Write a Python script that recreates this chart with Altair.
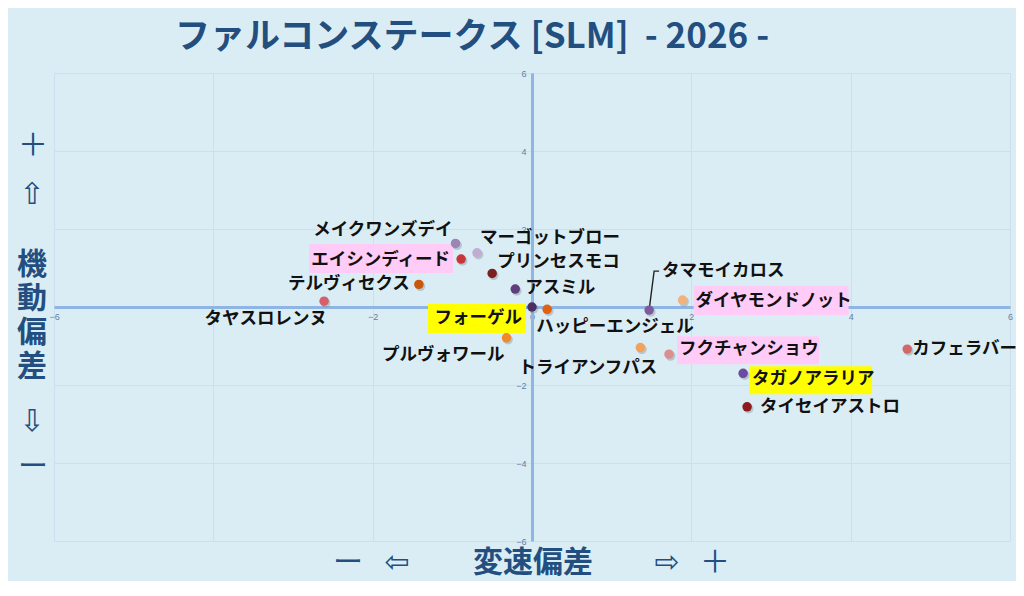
import altair as alt
import pandas as pd

# ---------------- data ----------------
names = ["メイクワンズデイ", "マーゴットブロー", "エイシンディード", "プリンセスモコ",
         "テルヴィセクス", "アスミル", "タヤスロレンヌ", "フォーゲル",
         "ハッピーエンジェル", "プルヴォワール", "トライアンフパス", "タマモイカロス",
         "ダイヤモンドノット", "フクチャンショウ", "カフェラバー", "タガノアラリア",
         "タイセイアストロ"]
speed_dev = [-0.96, -0.69, -0.89, -0.50, -1.42, -0.21, -2.61, 0.00,
             0.19, -0.32, 1.36, 1.47, 1.89, 1.72, 4.71, 2.65, 2.70]
mobility_dev = [1.63, 1.39, 1.23, 0.86, 0.58, 0.46, 0.15, 0.00,
                -0.06, -0.79, -1.04, -0.08, 0.18, -1.21, -1.08, -1.70, -2.56]
tick_values = [-6, -4, -2, 0, 2, 4, 6]

title_text = "ファルコンステークス [SLM]\u00a0\u00a0- 2026 -"
x_title = "変速偏差"
y_title = ["機", "動", "偏", "差"]

# ---------------- styles ----------------
FONT = "Noto Sans CJK JP"
NAVY = "#234f80"
BG = "#dbedf4"
PINK = "#ffccf7"
YELLOW = "#ffff00"

dot_colors = ["#9b85b4", "#c0aed0", "#c8363a", "#7a1f22", "#c8580a", "#5e3f7c",
              "#d4606a", "#4a3062", "#e0620e", "#f0882c", "#f3a25c", "#7e5a9e",
              "#f2b27c", "#d89090", "#d06868", "#6c4ca0", "#8c1c1c"]

# label placement (align, dx, dy) relative to each dot
label_style = {
    "メイクワンズデイ": ("right", -3, -13),
    "マーゴットブロー": ("left", 3, -15),
    "エイシンディード": ("right", -11, 1),
    "プリンセスモコ": ("left", 5, -11),
    "テルヴィセクス": ("right", -9, 0),
    "アスミル": ("left", 10, -1),
    "タヤスロレンヌ": ("right", 3, 18),
    "フォーゲル": ("right", -10, 11),
    "ハッピーエンジェル": ("left", -11, 18),
    "プルヴォワール": ("right", -2, 17),
    "トライアンフパス": ("right", 17, 20),
    "タマモイカロス": ("left", 13, -39),
    "ダイヤモンドノット": ("left", 13, 1),
    "フクチャンショウ": ("left", 10, -5),
    "カフェラバー": ("left", 5, 0),
    "タガノアラリア": ("left", 9, 6),
    "タイセイアストロ": ("left", 13, 0),
}

# highlight boxes (pixel offsets from the dot: x0, x1, y0, y1, colour)
boxes = {
    "エイシンディード": (-152, -8, -15, 14, PINK),
    "フォーゲル": (-104, -6, -3, 26, YELLOW),
    "ダイヤモンドノット": (11, 166, -14, 15, PINK),
    "フクチャンショウ": (8, 150, -18, 10, PINK),
    "タガノアラリア": (6, 129, -7, 21, YELLOW),
}
UNIT = 50.0          # pixels per path unit
SYM_SIZE = (2 * UNIT) ** 2


def rect_path(x0, x1, y0, y1):
    a, b, c, d = x0 / UNIT, x1 / UNIT, y0 / UNIT, y1 / UNIT
    return f"M{a:.3f},{c:.3f}L{b:.3f},{c:.3f}L{b:.3f},{d:.3f}L{a:.3f},{d:.3f}Z"


leader_path = f"M0,0L{5/UNIT:.3f},{-39/UNIT:.3f}L{10/UNIT:.3f},{-39/UNIT:.3f}"

W, H = 956, 468

df = pd.DataFrame({"name": names, "x": speed_dev, "y": mobility_dev})

x_axis = alt.Axis(values=tick_values, title=None, orient="bottom", offset=-H / 2,
                  ticks=False, labelFlush=False, labelFontSize=9, labelColor="#5d7fa8",
                  labelFont="Liberation Sans", labelPadding=5, domainColor="#8fb5e4",
                  domainWidth=3, gridColor="#cbe0ef", gridWidth=1, zindex=0)
y_axis = alt.Axis(values=tick_values, title=None, orient="left", offset=-W / 2,
                  ticks=False, labelFlush=False, labelFontSize=9, labelColor="#5d7fa8",
                  labelFont="Liberation Sans", labelPadding=6, domainColor="#8fb5e4",
                  domainWidth=3, gridColor="#cbe0ef", gridWidth=1, zindex=0)

xenc = alt.X("x:Q", scale=alt.Scale(domain=[-6, 6], nice=False, zero=False), axis=x_axis)
yenc = alt.Y("y:Q", scale=alt.Scale(domain=[-6, 6], nice=False, zero=False), axis=y_axis)

base = alt.Chart(df).encode(x=xenc, y=yenc)

layers = []

# highlight boxes
for n, (x0, x1, y0, y1, col) in boxes.items():
    layers.append(
        base.transform_filter(alt.datum.name == n).mark_point(
            shape=rect_path(x0, x1, y0, y1), size=SYM_SIZE, filled=True,
            color=col, opacity=1, strokeWidth=0)
    )

# leader line for タマモイカロス
layers.append(
    base.transform_filter(alt.datum.name == "タマモイカロス").mark_point(
        shape=leader_path, size=SYM_SIZE, filled=False, color="#222",
        opacity=1, strokeWidth=1.4)
)

# dot shadows
layers.append(
    base.mark_circle(size=95, color="#6f7f88", opacity=0.35, xOffset=1.5, yOffset=1.8)
)
# dots
layers.append(
    base.mark_circle(size=90, opacity=1).encode(
        color=alt.Color("name:N", scale=alt.Scale(domain=names, range=dot_colors),
                        legend=None)
    )
)

# labels
for n, (al, dx, dy) in label_style.items():
    layers.append(
        base.transform_filter(alt.datum.name == n).mark_text(
            align=al, baseline="middle", dx=dx, dy=dy, font=FONT, fontSize=17.5,
            fontWeight="bold", color="#111111").encode(text="name:N")
    )

# decorative titles (positions in plot pixels)
deco = pd.DataFrame({"t": [""]})


def deco_text(txt, px, py, size, weight="normal", font=FONT, color=NAVY):
    return alt.Chart(deco).mark_text(
        text=txt, font=font, fontSize=size, fontWeight=weight, color=color,
        align="center", baseline="middle").encode(x=alt.value(px), y=alt.value(py))


layers.append(deco_text(title_text, 418, -36, 35, "bold"))

# y axis title stack
layers.append(deco_text("＋", -21, 73, 30))
layers.append(deco_text("⇧", -22, 122, 30, font="DejaVu Sans"))
for i, ch in enumerate(y_title):
    layers.append(deco_text(ch, -22, 192 + 34 * i, 30, "bold"))
layers.append(deco_text("⇩", -22, 349, 30, font="DejaVu Sans"))
layers.append(deco_text("ー", -21, 394, 30))

# x axis title row
layers.append(deco_text("ー", 294, 490, 30))
layers.append(deco_text("⇦", 343, 490, 30, font="DejaVu Sans"))
layers.append(deco_text(x_title, 479, 490, 30, "bold"))
layers.append(deco_text("⇨", 613, 490, 30, font="DejaVu Sans"))
layers.append(deco_text("＋", 661, 490, 30))

chart = alt.layer(*layers).properties(
    width=W, height=H,
    padding={"left": 46, "top": 65, "right": 6, "bottom": 40},
    autosize=alt.AutoSizeParams(type="none"),
    background=BG,
).configure_view(stroke=None)

chart.save("out.html", embed_options={"renderer": "svg", "actions": False})
